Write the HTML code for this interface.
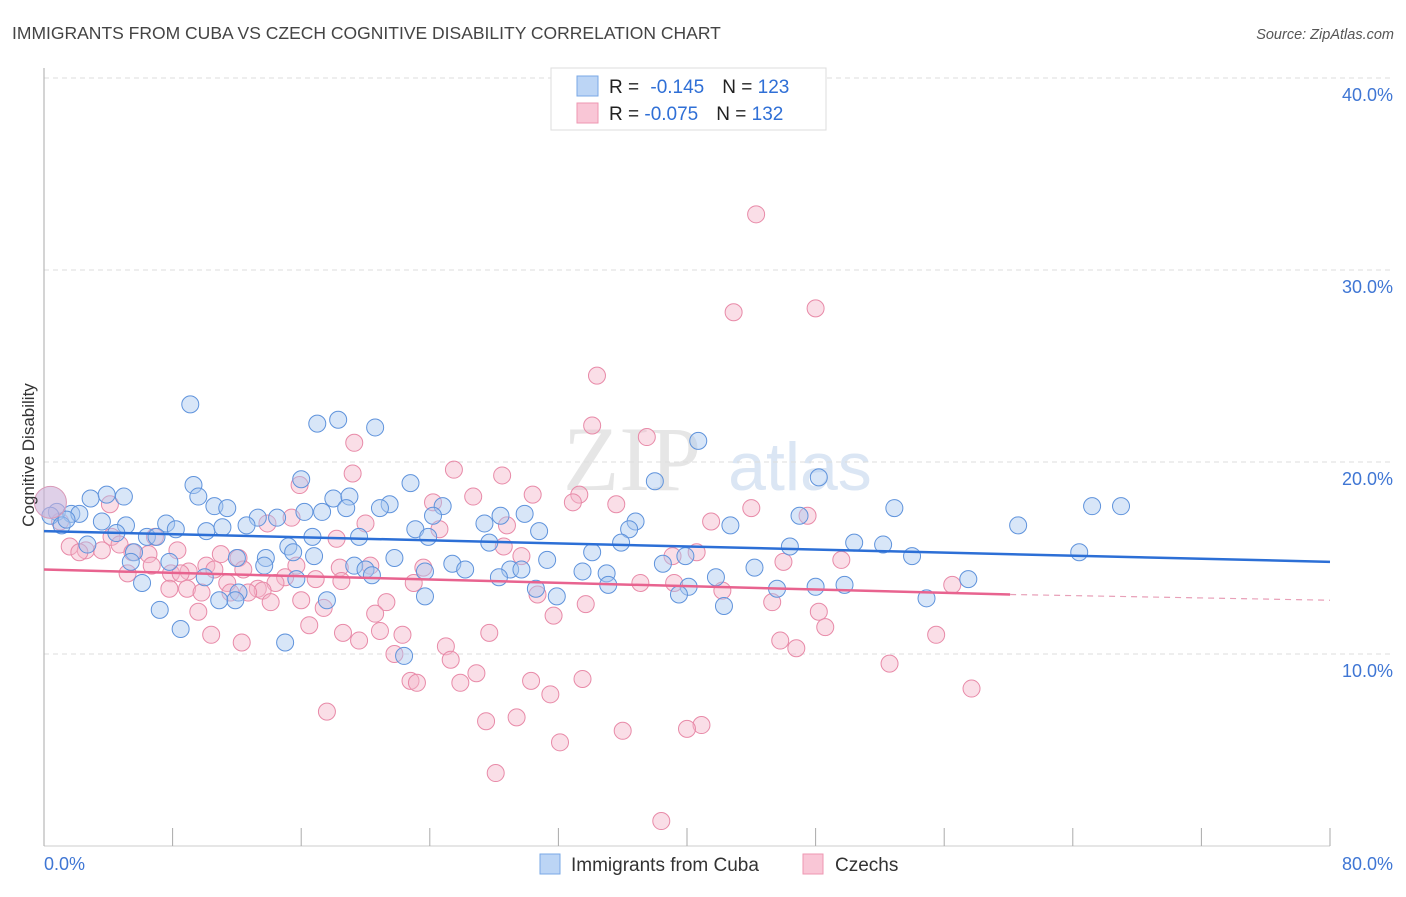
<!DOCTYPE html>
<html><head><meta charset="utf-8"><style>
body{margin:0;background:#fff;font-family:"Liberation Sans",sans-serif;}
svg text{font-family:"Liberation Sans",sans-serif;}
</style></head><body>
<svg id="chart" width="1406" height="892" viewBox="0 0 1406 892">
<text x="12" y="39" font-size="17.5" fill="#444">IMMIGRANTS FROM CUBA VS CZECH COGNITIVE DISABILITY CORRELATION CHART</text>
<text x="1394" y="39" font-size="14.5" fill="#555" font-style="italic" text-anchor="end">Source: ZipAtlas.com</text>
<g>
<text x="632" y="490" font-size="92" fill="#e6e6e6" text-anchor="middle" font-family="Liberation Serif" style="font-family:'Liberation Serif',serif">ZIP</text>
<text x="800" y="490" font-size="68" fill="#dbe6f4" text-anchor="middle">atlas</text>
</g>
<g id="grid"></g>
<g id="axes"></g>
<g id="points"></g>
<g id="trends"></g>
<text transform="translate(34,455) rotate(-90)" font-size="17" fill="#333" text-anchor="middle">Cognitive Disability</text>
<g>
<rect x="551" y="68" width="275" height="62" fill="#fff" stroke="#ddd"/>
<rect x="577" y="76" width="21" height="20" fill="#bcd5f5" stroke="#7aa8e6"/>
<rect x="577" y="103" width="21" height="20" fill="#f9c6d6" stroke="#ee97b2"/>
<text x="609" y="93" font-size="19" fill="#222">R = <tspan fill="#2f6fd6" dx="6">-0.145</tspan><tspan fill="#222" dx="18">N = </tspan><tspan fill="#2f6fd6">123</tspan></text>
<text x="609" y="120" font-size="19" fill="#222">R = <tspan fill="#2f6fd6">-0.075</tspan><tspan fill="#222" dx="18">N = </tspan><tspan fill="#2f6fd6">132</tspan></text>
</g>
<g>
<rect x="540" y="854" width="20" height="20" fill="#bcd5f5" stroke="#7aa8e6"/>
<text x="571" y="871" font-size="19" fill="#333">Immigrants from Cuba</text>
<rect x="803" y="854" width="20" height="20" fill="#f9c6d6" stroke="#ee97b2"/>
<text x="835" y="871" font-size="19" fill="#333">Czechs</text>
</g>
</svg>
<script>
const yTicks=[10,20,30,40];
const yTickLabels=["10.0%","20.0%","30.0%","40.0%"];
const xTickLabels=["0.0%","80.0%"];
const cubaX=[9.1,17.0,18.3,20.6,40.7,48.2,22.8,16.0,9.3,2.9,3.9,4.97,9.6,18.0,19.0,21.5,20.9,18.8,24.8,65.2,67.0,52.9,38.0,10.6,11.4,0.8,1.7,0.4,2.2,3.6,5.1,1.1,1.4,13.3,14.5,17.3,16.2,28.4,29.9,24.2,36.8,36.4,27.4,23.1,23.9,42.7,47.0,60.6,7.6,8.2,10.1,11.1,12.6,6.4,7.0,4.5,2.7,19.6,16.7,30.8,35.9,27.7,50.4,52.2,46.4,64.4,54.0,15.2,15.5,13.8,12.0,16.8,21.8,31.3,34.1,39.9,5.6,5.4,7.8,13.7,19.3,20.0,23.7,25.4,26.2,29.0,29.7,33.5,35.0,38.5,44.2,57.5,20.4,10.0,6.1,15.7,28.3,30.6,35.1,41.8,49.8,48.0,45.6,40.1,39.5,23.7,31.9,12.1,11.9,10.9,17.6,54.9,42.3,7.2,8.5,15.0,22.4];
const cubaY=[23.0,22.0,22.2,21.8,21.1,19.2,18.9,19.1,18.8,18.1,18.3,18.2,18.2,18.1,18.2,17.8,17.6,17.6,17.7,17.7,17.7,17.6,19.0,17.7,17.6,17.4,17.3,17.2,17.3,16.9,16.7,16.7,17.0,17.1,17.1,17.4,17.4,17.2,17.3,17.2,16.9,16.5,16.8,16.5,16.1,16.7,17.2,16.7,16.8,16.5,16.4,16.6,16.7,16.1,16.1,16.3,15.7,16.1,16.1,16.4,15.8,15.8,15.8,15.7,15.6,15.3,15.1,15.6,15.3,15.0,15.0,15.1,15.0,14.9,15.3,15.1,15.3,14.8,14.8,14.6,14.6,14.4,14.3,14.7,14.4,14.4,14.4,14.3,14.2,14.7,14.5,13.9,14.1,14.0,13.7,13.9,14.0,13.4,13.6,14.0,13.6,13.5,13.4,13.5,13.1,13.0,13.0,13.2,12.8,12.8,12.8,12.9,12.5,12.3,11.3,10.6,9.9];
const czX=[44.3,42.9,48.0,34.4,34.1,37.5,19.3,25.5,19.2,28.5,15.9,26.7,30.4,33.3,32.9,35.6,24.2,44.0,47.5,41.5,15.4,20.0,4.1,1.0,4.2,28.8,24.6,13.9,18.2,6.9,1.6,2.6,3.6,2.2,4.7,5.5,6.5,8.3,11.0,12.1,6.7,7.9,5.2,10.1,10.6,12.4,9.0,8.5,28.6,29.7,40.6,39.1,46.0,49.6,20.3,15.7,18.4,23.6,15.0,16.9,18.5,14.4,13.3,13.6,11.4,7.8,8.9,9.8,11.6,12.7,23.0,30.7,37.1,39.2,42.2,56.5,14.1,16.0,21.3,17.4,33.7,45.3,48.2,9.6,20.6,31.7,16.5,48.6,20.9,18.6,27.7,10.4,22.3,55.5,45.8,12.3,19.6,25.0,46.8,21.8,25.3,52.6,26.9,22.8,23.2,25.9,30.3,33.5,57.7,31.5,17.6,29.4,27.5,40.9,40.0,36.0,32.1,28.1,38.4];
const czY=[32.9,27.8,28.0,24.5,21.9,21.3,21.0,19.6,19.4,19.3,18.8,18.2,18.3,18.3,17.9,17.8,17.9,17.6,17.2,16.9,17.1,16.8,17.8,16.9,16.1,16.7,16.5,16.8,16.0,16.1,15.6,15.4,15.4,15.3,15.7,15.3,15.2,15.4,15.2,15.0,14.6,14.2,14.2,14.6,14.4,14.4,14.3,14.2,15.6,15.1,15.3,15.1,14.8,14.9,14.6,14.6,14.5,14.5,14.0,13.9,13.8,13.7,13.4,13.3,13.7,13.4,13.4,13.2,13.2,13.2,13.7,13.1,13.7,13.7,13.3,13.6,12.7,12.8,12.7,12.4,12.6,12.7,12.2,12.2,12.1,12.0,11.5,11.4,11.2,11.1,11.1,11.0,11.0,11.0,10.7,10.6,10.7,10.4,10.3,10.0,9.7,9.5,9.0,8.6,8.5,8.5,8.6,8.7,8.2,7.9,7.0,6.7,6.5,6.3,6.1,6.0,5.4,3.8,1.3];
const cubaTrend=[16.4,14.8];
const czTrend=[14.4,13.1,12.8];
const czSolidEnd=60.1;

const NS="http://www.w3.org/2000/svg";
const X0=44,X1=1330,Y0=846,YPX=19.2;
function sx(v){return X0+(v/80)*(X1-X0);}
function sy(v){return Y0-v*YPX;}
function mk(tag,attrs,parent){const e=document.createElementNS(NS,tag);for(const k in attrs)e.setAttribute(k,attrs[k]);parent.appendChild(e);return e;}
const grid=document.getElementById('grid'),axes=document.getElementById('axes'),pts=document.getElementById('points'),tr=document.getElementById('trends');
yTicks.forEach((t,i)=>{
  const l=mk('line',{x1:X0,x2:1394,y1:sy(t),y2:sy(t),stroke:'#ddd','stroke-dasharray':'5,4'},grid);
  
  
  const tx=mk('text',{x:1393,y:sy(t)+23,'font-size':18,fill:'#3f76d4','text-anchor':'end'},axes);
  tx.textContent=yTickLabels[i];
  
  
});
const ya=mk('line',{x1:X0,x2:X0,y1:68,y2:Y0,stroke:'#aaa'},axes);


const xa=mk('line',{x1:X0,x2:X1,y1:Y0,y2:Y0,stroke:'#ccc'},axes);


for(let v=0;v<=80;v+=8){
  const t=mk('line',{x1:sx(v),x2:sx(v),y1:828,y2:Y0,stroke:'#aaa'},axes);
  
  
}
const xl0=mk('text',{x:44,y:870,'font-size':18,fill:'#3f76d4'},axes);xl0.textContent=xTickLabels[0];


const xl1=mk('text',{x:1393,y:870,'font-size':18,fill:'#3f76d4','text-anchor':'end'},axes);xl1.textContent=xTickLabels[1];


function dots(xs,ys,fill,stroke,name){
  xs.forEach((x,i)=>{
    const c=mk('circle',{cx:sx(x),cy:sy(ys[i]),r:8.5,fill:fill,stroke:stroke,'stroke-width':1,'fill-opacity':0.45},pts);
    
    
  });
}
dots(czX,czY,'#f5b6c9','#e88aa8','czechs-point');
dots(cubaX,cubaY,'#a9c8f0','#5f93dc','cuba-point');
const big1=mk('circle',{cx:sx(0.4),cy:sy(17.9),r:16,fill:'#c9b0d8',stroke:'#d99ab8','fill-opacity':0.6},pts);


const l1=mk('line',{x1:sx(0),y1:sy(cubaTrend[0]),x2:sx(80),y2:sy(cubaTrend[1]),stroke:'#2c6fd6','stroke-width':2.5},tr);


const l2=mk('line',{x1:sx(0),y1:sy(czTrend[0]),x2:sx(czSolidEnd),y2:sy(czTrend[1]),stroke:'#e8638f','stroke-width':2.5},tr);


const l3=mk('line',{x1:sx(czSolidEnd),y1:sy(czTrend[1]),x2:sx(80),y2:sy(czTrend[2]),stroke:'#e8a0b8','stroke-width':1.2,'stroke-dasharray':'6,5'},tr);


</script>
</body></html>
